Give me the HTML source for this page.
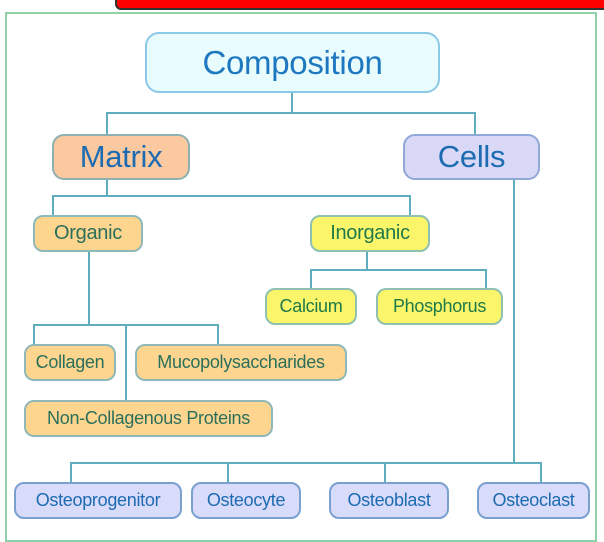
<!DOCTYPE html>
<html><head><meta charset="utf-8"><style>
body{margin:0;width:604px;height:535px;background:#fff;position:relative;overflow:hidden;font-family:"Liberation Sans","DejaVu Sans",sans-serif}
.b{position:absolute;box-sizing:border-box;border-radius:10px;display:flex;align-items:center;justify-content:center;white-space:nowrap;letter-spacing:-0.3px}
.o{background:#fdd58f;border:2px solid #8fb8b8;color:#2b6f5a;font-size:18px}
.y{background:#fbf56a;border:2px solid #8fc0b0;color:#1f7a4a;font-size:18px}
.c{background:#d9dbfa;border:2px solid #7aa0d0;color:#1d6bb0;font-size:18px}
.l{position:absolute;background:#5eaec0}
</style></head><body>
<div style="position:absolute;left:115px;top:-6px;width:500px;height:12px;background:#f00;border:2px solid #333;border-radius:6px"></div>
<div style="position:absolute;left:5px;top:12px;width:592px;height:530px;border:2px solid #8fd0a8;box-sizing:border-box"></div>
<div class="l" style="left:291px;top:93px;width:2px;height:20px"></div>
<div class="l" style="left:106px;top:112px;width:370px;height:2px"></div>
<div class="l" style="left:106px;top:112px;width:2px;height:22px"></div>
<div class="l" style="left:474px;top:112px;width:2px;height:22px"></div>
<div class="l" style="left:106px;top:180px;width:2px;height:16px"></div>
<div class="l" style="left:52px;top:195px;width:359px;height:2px"></div>
<div class="l" style="left:52px;top:195px;width:2px;height:20px"></div>
<div class="l" style="left:409px;top:195px;width:2px;height:20px"></div>
<div class="l" style="left:88px;top:252px;width:2px;height:72px"></div>
<div class="l" style="left:33px;top:324px;width:186px;height:2px"></div>
<div class="l" style="left:33px;top:324px;width:2px;height:20px"></div>
<div class="l" style="left:217px;top:324px;width:2px;height:20px"></div>
<div class="l" style="left:125px;top:324px;width:2px;height:76px"></div>
<div class="l" style="left:366px;top:252px;width:2px;height:18px"></div>
<div class="l" style="left:310px;top:269px;width:177px;height:2px"></div>
<div class="l" style="left:310px;top:269px;width:2px;height:19px"></div>
<div class="l" style="left:485px;top:269px;width:2px;height:19px"></div>
<div class="l" style="left:513px;top:180px;width:2px;height:284px"></div>
<div class="l" style="left:70px;top:462px;width:472px;height:2px"></div>
<div class="l" style="left:70px;top:462px;width:2px;height:20px"></div>
<div class="l" style="left:227px;top:462px;width:2px;height:20px"></div>
<div class="l" style="left:384px;top:462px;width:2px;height:20px"></div>
<div class="l" style="left:540px;top:462px;width:2px;height:20px"></div>
<div class="b" style="left:145px;top:32px;width:295px;height:61px;background:#e8fbfd;border:2px solid #8cc8e8;color:#1e78c0;font-size:33px;border-radius:14px">Composition</div>
<div class="b" style="left:52px;top:134px;width:138px;height:46px;background:#fbc9a0;border:2px solid #8fb0b0;color:#1d6bb0;font-size:31px;border-radius:12px">Matrix</div>
<div class="b" style="left:403px;top:134px;width:137px;height:46px;background:#d9d9f7;border:2px solid #8fa8d8;color:#1d6bb0;font-size:31px;border-radius:12px">Cells</div>
<div class="b o" style="left:33px;top:215px;width:110px;height:37px;font-size:20px">Organic</div>
<div class="b y" style="left:310px;top:215px;width:120px;height:37px;font-size:20px">Inorganic</div>
<div class="b y" style="left:265px;top:288px;width:92px;height:37px">Calcium</div>
<div class="b y" style="left:376px;top:288px;width:127px;height:37px">Phosphorus</div>
<div class="b o" style="left:24px;top:344px;width:92px;height:37px">Collagen</div>
<div class="b o" style="left:135px;top:344px;width:212px;height:37px">Mucopolysaccharides</div>
<div class="b o" style="left:24px;top:400px;width:249px;height:37px">Non-Collagenous Proteins</div>
<div class="b c" style="left:14px;top:482px;width:168px;height:37px">Osteoprogenitor</div>
<div class="b c" style="left:191px;top:482px;width:110px;height:37px">Osteocyte</div>
<div class="b c" style="left:329px;top:482px;width:120px;height:37px">Osteoblast</div>
<div class="b c" style="left:477px;top:482px;width:113px;height:37px">Osteoclast</div>
</body></html>
